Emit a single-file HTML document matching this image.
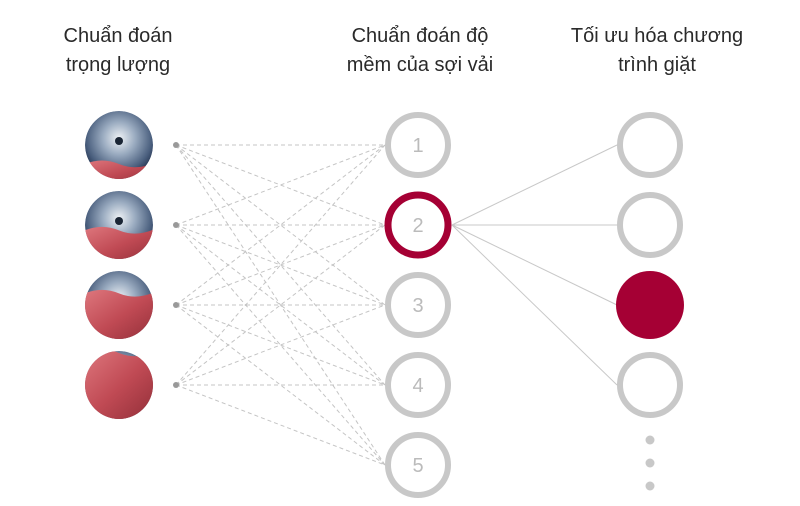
<!DOCTYPE html>
<html><head><meta charset="utf-8"><style>
body{margin:0;background:#fff;}
svg{display:block;font-family:"Liberation Sans","DejaVu Sans",sans-serif;}
</style></head><body>
<svg width="800" height="506" viewBox="0 0 800 506">
<defs>
<radialGradient id="steel" cx="50%" cy="40%" r="60%">
<stop offset="0" stop-color="#eef2f6"/><stop offset="0.4" stop-color="#9aabc0"/><stop offset="0.8" stop-color="#4a5f7e"/><stop offset="1" stop-color="#22324e"/></radialGradient>
<linearGradient id="cloth" x1="0" y1="0" x2="1" y2="1">
<stop offset="0" stop-color="#e07a80"/><stop offset="0.5" stop-color="#c04a54"/><stop offset="1" stop-color="#8a2a34"/></linearGradient>
</defs>
<g fill="#2a2a2a" font-size="20" text-anchor="middle">
<text x="118" y="42">Chuẩn đoán</text>
<text x="118" y="71">trọng lượng</text>
<text x="420" y="42">Chuẩn đoán độ</text>
<text x="420" y="71">mềm của sợi vải</text>
<text x="657" y="42">Tối ưu hóa chương</text>
<text x="657" y="71">trình giặt</text>
</g>
<g id="dashes" stroke="#c4c4c4" stroke-width="1" stroke-dasharray="4,3"></g>
<g id="solid" stroke="#c8c8c8" stroke-width="1"></g>
<g id="left"></g>
<g id="mid"></g>
<g id="right"></g>
<g fill="#c8c8c8">
<circle cx="650" cy="440" r="4.5"/><circle cx="650" cy="463" r="4.5"/><circle cx="650" cy="486" r="4.5"/></g>
</svg>
<script>
const leftYs=[145,225,305,385];
const fillFrac=[0.25,0.45,0.7,1.0];
const midLabels=["1","2","3","4","5"];
const midYs=[145,225,305,385,465];
const selectedMid=1;
const rightYs=[145,225,305,385];
const selectedRight=2;
const NS="http://www.w3.org/2000/svg";
function mk(t,a,p){const e=document.createElementNS(NS,t);for(const k in a)e.setAttribute(k,a[k]);p.appendChild(e);return e;}
const dashes=document.getElementById('dashes'),solid=document.getElementById('solid');
const L=document.getElementById('left'),M=document.getElementById('mid'),R=document.getElementById('right');
const defs=document.querySelector('defs');
leftYs.forEach((y,i)=>{
  const cp=mk('clipPath',{id:'c'+i},defs);mk('circle',{cx:119,cy:y,r:34},cp);
  const g=mk('g',{'clip-path':'url(#c'+i+')'},L);
  
  
  mk('circle',{cx:119,cy:y,r:34,fill:'url(#steel)'},g);
  mk('circle',{cx:119,cy:y-4,r:4,fill:'#1a2535'},g);
  const top=y+34-68*fillFrac[i];
  mk('path',{d:`M80 ${top+4} Q100 ${top-6} 119 ${top+2} T160 ${top-2} L160 ${y+40} L80 ${y+40} Z`,fill:'url(#cloth)'},g);
  const d=mk('circle',{cx:176,cy:y,r:3,fill:'#999'},L);
  
  
  midYs.forEach(my=>{mk('line',{x1:176,y1:y,x2:385,y2:my},dashes);});
});
midYs.forEach((y,i)=>{
  const sel=i===selectedMid;
  const c=mk('circle',{cx:418,cy:y,r:30,fill:'#fff',stroke:sel?'#a50034':'#c8c8c8','stroke-width':sel?7:6},M);
  
  
  const t=mk('text',{x:418,y:y+7,'text-anchor':'middle','font-size':20,fill:'#bbb'},M);
  t.textContent=midLabels[i];
  
  
});
rightYs.forEach((y,i)=>{
  const sy=midYs[selectedMid];
  mk('line',{x1:452,y1:sy,x2:617,y2:y},solid);
  const sel=i===selectedRight;
  const c=mk('circle',{cx:650,cy:y,r:sel?34:30,fill:sel?'#a50034':'#fff',stroke:sel?'none':'#c8c8c8','stroke-width':6},R);
  
  
});
</script>
</body></html>
